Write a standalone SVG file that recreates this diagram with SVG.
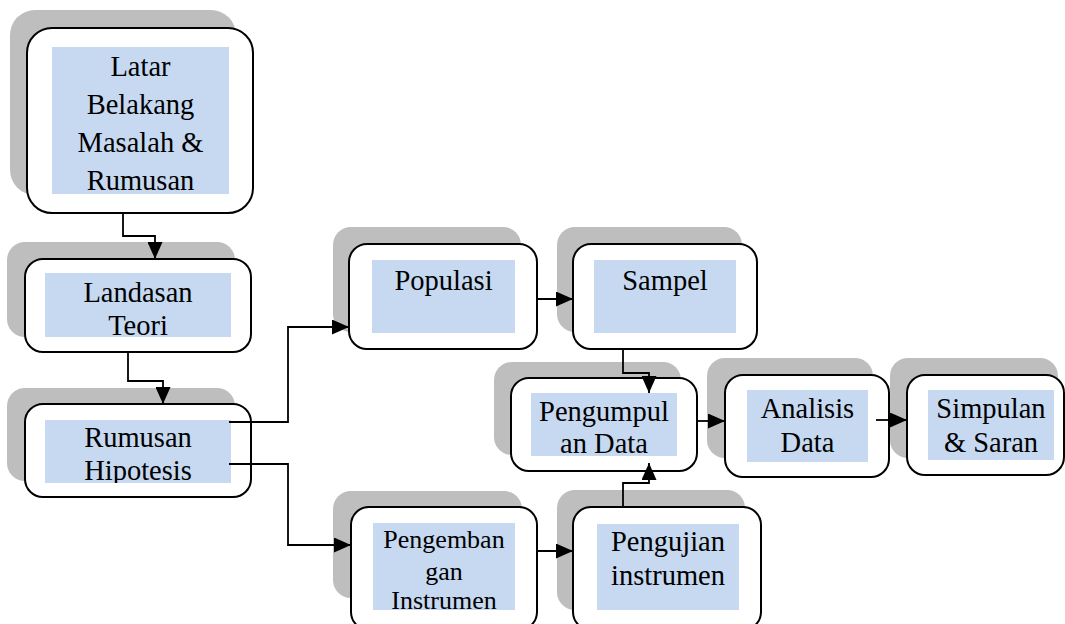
<svg xmlns="http://www.w3.org/2000/svg" width="1065" height="624" viewBox="0 0 1065 624">
<style>
.sh{fill:#bebebe}
.bx{fill:#ffffff;stroke:#000000;stroke-width:2}
.bl{fill:#c6d9f0}
.t{font-family:"Liberation Serif","Times New Roman",serif;font-size:28.5px;fill:#000;text-anchor:middle}
.ts{font-size:26px}
.cn{fill:none;stroke:#000;stroke-width:1.8}
</style>
<defs>
<marker id="ah" markerUnits="userSpaceOnUse" markerWidth="17" markerHeight="15" refX="17" refY="7.5" orient="auto">
<path d="M0,0 L17,7.5 L0,15 z" fill="#000"/>
</marker>
<clipPath id="cR"><rect x="45" y="420" width="186" height="63"/></clipPath>
</defs>
<rect width="1065" height="624" fill="#ffffff"/>

<g id="latar">
<rect class="sh" x="10" y="10" width="226" height="185" rx="25"/>
<rect class="bx" x="27" y="28" width="226" height="185" rx="25"/>
<rect class="bl" x="52" y="47" width="177" height="147"/>
<text class="t" x="140.5" y="76">Latar</text>
<text class="t" x="140.5" y="114">Belakang</text>
<text class="t" x="140.5" y="152">Masalah &amp;</text>
<text class="t" x="140.5" y="190">Rumusan</text>
</g>

<g id="landasan">
<rect class="sh" x="7" y="242" width="228" height="95" rx="18"/>
<rect class="bx" x="25" y="259" width="226" height="93" rx="18"/>
<rect class="bl" x="45" y="273" width="186" height="64"/>
<text class="t" x="138" y="302">Landasan</text>
<text class="t" x="138" y="335">Teori</text>
</g>

<g id="rumusan">
<rect class="sh" x="7" y="388" width="228" height="93" rx="18"/>
<rect class="bx" x="25" y="404" width="226" height="93" rx="18"/>
<rect class="bl" x="45" y="420" width="186" height="63"/>
<g clip-path="url(#cR)">
<text class="t" x="138" y="447">Rumusan</text>
<text class="t" x="138" y="480">Hipotesis</text>
</g>
</g>

<g id="populasi">
<rect class="sh" x="333" y="227" width="188" height="105" rx="18"/>
<rect class="bx" x="349" y="244" width="188" height="105" rx="18"/>
<rect class="bl" x="372" y="260" width="143" height="73"/>
<text class="t" x="443.5" y="290">Populasi</text>
</g>

<g id="sampel">
<rect class="sh" x="557" y="227" width="185" height="105" rx="18"/>
<rect class="bx" x="573" y="244" width="184" height="105" rx="18"/>
<rect class="bl" x="594" y="260" width="142" height="73"/>
<text class="t" x="665" y="290">Sampel</text>
</g>

<g id="pengumpulan">
<rect class="sh" x="494" y="362" width="187" height="93" rx="18"/>
<rect class="bx" x="511" y="378" width="186" height="93" rx="18"/>
<rect class="bl" x="531" y="393" width="146" height="63"/>
<text class="t" x="604" y="421">Pengumpul</text>
<text class="t" x="604" y="453">an Data</text>
</g>

<g id="analisis">
<rect class="sh" x="707" y="358" width="166" height="100" rx="18"/>
<rect class="bx" x="725" y="375" width="164" height="102" rx="18"/>
<rect class="bl" x="747" y="390" width="121" height="72"/>
<text class="t" x="807.5" y="418">Analisis</text>
<text class="t" x="807.5" y="452">Data</text>
</g>

<g id="simpulan">
<rect class="sh" x="890" y="358" width="168" height="100" rx="18"/>
<rect class="bx" x="907" y="375" width="157" height="100" rx="18"/>
<rect class="bl" x="928" y="390" width="126" height="70"/>
<text class="t" x="991" y="418">Simpulan</text>
<text class="t" x="991" y="452">&amp; Saran</text>
</g>

<g id="pengembangan">
<rect class="sh" x="333" y="491" width="189" height="107" rx="18"/>
<rect class="bx" x="351" y="507" width="186" height="123" rx="18"/>
<rect class="bl" x="373" y="523" width="142" height="87"/>
<text class="t ts" x="444" y="548">Pengemban</text>
<text class="t ts" x="444" y="580">gan</text>
<text class="t ts" x="444" y="609">Instrumen</text>
</g>

<g id="pengujian">
<rect class="sh" x="557" y="490" width="188" height="120" rx="18"/>
<rect class="bx" x="573" y="507" width="188" height="123" rx="18"/>
<rect class="bl" x="597" y="524" width="142" height="86"/>
<text class="t" x="668" y="551">Pengujian</text>
<text class="t" x="668" y="585">instrumen</text>
</g>

<g id="connectors">
<polyline class="cn" points="123,213 123,236 155,236 155,259" marker-end="url(#ah)"/>
<polyline class="cn" points="128,352 128,381 163,381 163,404" marker-end="url(#ah)"/>
<polyline class="cn" points="229,422 288,422 288,327 349,327" marker-end="url(#ah)"/>
<polyline class="cn" points="229,464 288,464 288,545 351,545" marker-end="url(#ah)"/>
<polyline class="cn" points="537,299 573,299" marker-end="url(#ah)"/>
<polyline class="cn" points="623,349 623,373 649,373 649,393" marker-end="url(#ah)"/>
<polyline class="cn" points="623,507 623,483 649,483 649,463" marker-end="url(#ah)"/>
<polyline class="cn" points="537,551 573,551" marker-end="url(#ah)"/>
<polyline class="cn" points="697,421 725,421" marker-end="url(#ah)"/>
<polyline class="cn" points="876,420 907,420" marker-end="url(#ah)"/>
</g>
</svg>
